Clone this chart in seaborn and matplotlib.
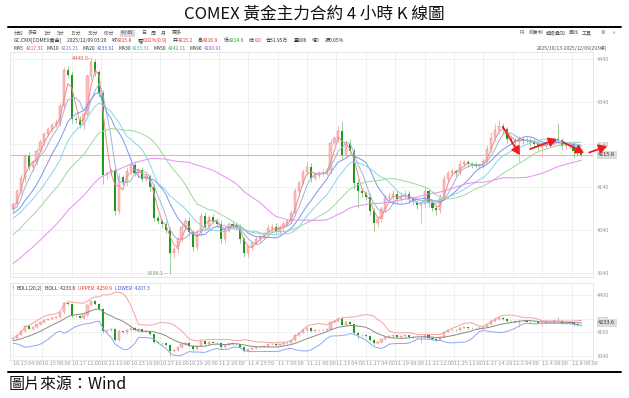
import numpy as np
import pandas as pd
import matplotlib
matplotlib.use("Agg")
import matplotlib.pyplot as plt
import matplotlib.transforms as mtrans
import seaborn as sns

# ---------------- data (1 bar here = 2 four-hour bars) ----------------
warmup_close = [3818, 3832, 3826, 3842, 3835, 3850, 3846, 3858, 3853, 3868,
                3876, 3890, 3882, 3898, 3893, 3909, 3903, 3918, 3912, 3927,
                3932, 3941, 3948, 3957, 3960, 3966, 3969, 3977, 3984, 3991,
                4018, 4036, 4044, 4051, 4050,
                4048, 4062, 4076, 4068, 4076,
                4070, 4086, 4079, 4076, 4090]

close = [4100, 4130, 4162, 4212, 4186, 4198, 4225, 4245, 4265, 4275,
         4285, 4291, 4330, 4415, 4402, 4300, 4298, 4285, 4310, 4400,
         4432, 4409, 4360, 4168, 4172, 4180, 4085, 4163, 4152, 4178,
         4193, 4172, 4180, 4160, 4165, 4140, 4068, 4060, 4054, 4040,
         3985, 3995, 4018, 4048, 4060, 4035, 4000, 4035, 4072, 4048,
         4070, 4062, 4055, 4018, 4042, 4054, 4050, 4045, 4018, 3985,
         4000, 4010, 4018, 4024, 4030, 4045, 4048, 4036, 4046, 4055,
         4060, 4080, 4130, 4150, 4175, 4188, 4162, 4170, 4172, 4174,
         4179, 4244, 4254, 4272, 4215, 4242, 4225, 4150, 4132, 4126,
         4118, 4085, 4056, 4065, 4090, 4115, 4116, 4125, 4112, 4120,
         4125, 4112, 4105, 4098, 4100, 4130, 4103, 4092, 4086, 4115,
         4160, 4172, 4177, 4174, 4195, 4198, 4194, 4191, 4190, 4190,
         4202, 4230, 4255, 4273, 4283, 4275, 4252, 4250, 4245, 4252,
         4250, 4249, 4245, 4242, 4235, 4237, 4241, 4243, 4252, 4250,
         4236, 4238, 4242, 4224, 4220, 4215.8]

upper_wick = [6, 5, 8, 6, 10, 5, 6, 7, 5, 6,
              5, 8, 6, 6, 8, 10, 6, 8, 6, 5,
              7.5, 8, 6, 8, 6, 5, 8, 10, 6, 8,
              6, 8, 5, 6, 8, 5, 8, 6, 5, 8,
              6, 8, 5, 6, 8, 10, 6, 5, 8, 10,
              6, 8, 5, 8, 6, 5, 8, 6, 8, 6,
              6, 5, 8, 6, 5, 8, 6, 8, 6, 5,
              5, 6, 8, 6, 8, 10, 8, 6, 5, 8,
              6, 8, 6, 10, 23, 8, 10, 6, 8, 6,
              6, 8, 6, 8, 6, 8, 10, 8, 6, 8,
              8, 6, 8, 6, 8, 12, 6, 8, 6, 8,
              8, 6, 8, 6, 8, 6, 5, 6, 8, 6,
              6, 8, 15, 15, 13, 8, 6, 8, 6, 8,
              6, 8, 6, 8, 6, 8, 6, 8, 6, 38,
              6, 8, 6, 5, 6, 4]

lower_wick = [8, 6, 5, 10, 6, 8, 5, 6, 8, 5,
              6, 5, 8, 10, 6, 10, 8, 6, 10, 8,
              6, 8, 10, 20, 8, 6, 10, 8, 6, 10,
              8, 6, 10, 8, 6, 10, 8, 6, 10, 8,
              46.9, 10, 8, 6, 8, 10, 10, 6, 8, 8,
              8, 6, 8, 10, 8, 6, 8, 6, 8, 8,
              8, 6, 5, 8, 6, 5, 8, 6, 5, 8,
              6, 5, 8, 6, 5, 6, 10, 6, 8, 5,
              5, 8, 6, 8, 10, 6, 8, 15, 40, 8,
              8, 10, 18, 8, 6, 8, 6, 10, 8, 6,
              6, 8, 6, 8, 41, 6, 10, 8, 10, 6,
              6, 8, 5, 8, 6, 5, 8, 6, 5, 8,
              5, 6, 8, 6, 8, 10, 8, 10, 8, 45,
              8, 6, 8, 6, 8, 25, 6, 8, 6, 8,
              8, 6, 8, 15, 8, 6]

x_labels = ["10.13 04:00", "10.15 08:00", "10.17 12:00", "10.21 12:00", "10.23 16:00",
            "10.27 16:00", "10.29 20:00", "11.2 20:00", "11.4 23:59", "11.7 00:00",
            "11.11 00:00", "11.13 04:00", "11.17 04:00", "11.19 08:00", "11.21 12:00",
            "11.25 12:00", "11.27 14:29", "12.2 04:00", "12.4 08:00", "12.8 08:00"]
price_ticks = [3940, 4040, 4140, 4240, 4340, 4440]
boll_ticks = [3940, 4160, 4270, 4490]
ma_periods = [5, 10, 20, 30, 50, 90]
ma_values = ["4217.31", "4226.21", "4233.61", "4233.31", "4242.11", "4200.91"]
boll_values = ["4233.6", "4259.9", "4207.3"]
quote_fields = [("收", "4215.8"), ("幅", "0.02%(0.9)"), ("开", "4215.2"), ("高", "4216.9"),
                ("低", "4214.6"), ("结", "0.0")]
quote_plain = ["仓31.95万", "量806", "增0", "振0.05%"]
trend_arrows = [((125.0, 4280.4), (129.3, 4215.0)),
                ((131.9, 4229.0), (138.8, 4252.4)),
                ((140.3, 4245.4), (145.7, 4219.7)),
                ((147.0, 4221.0), (151.6, 4236.0))]

# ---------------- derived table ----------------
n = len(close)
w = len(warmup_close)
full = pd.Series(warmup_close + close, dtype=float)
df = pd.DataFrame({"idx": np.arange(n), "close": np.array(close, dtype=float)})
df["open"] = full.shift(1).iloc[w:].values
df["high"] = np.maximum(df["open"], df["close"]) + np.array(upper_wick)
df["low"] = np.minimum(df["open"], df["close"]) - np.array(lower_wick)
for p in ma_periods:
    df[f"MA{p}"] = full.rolling(int(np.ceil(p / 2))).mean().iloc[w:].values
mid = full.rolling(10).mean()
sd = full.rolling(10).std(ddof=0)
df["mid"] = mid.iloc[w:].values
df["upper"] = (mid + 2 * sd).iloc[w:].values
df["lower"] = (mid - 2 * sd).iloc[w:].values

# ---------------- style ----------------
sns.set_theme(style="white")
SC = ["Noto Sans CJK SC", "DejaVu Sans"]
TC = ["Noto Sans CJK TC", "DejaVu Sans"]
plt.rcParams["font.family"] = SC
plt.rcParams["axes.unicode_minus"] = False

W, H = 629, 398
fig = plt.figure(figsize=(W / 100, H / 100), dpi=100)
fig.patch.set_facecolor("white")

ma_colors = ["#ef8a8a", "#9fb4d4", "#7d95ee", "#86d7ea", "#9ed89e", "#e58ff0"]
ma_val_colors = ["#e05050", "#6b8cb8", "#3a5de0", "#36b8d6", "#3aa83a", "#c23ee0"]
UP_FILL, UP_EDGE, UP_WICK = "#f9c0c0", "#f08080", "#f3a0a0"
DN_FILL, DN_WICK = "#1e9a1e", "#7cc47c"
GRID = "#eeeeee"

xmin, xmax = -0.77, 147.96
grid_x = [7.5 * k for k in range(len(x_labels))]


def draw_candles(ax):
    up = df["close"] >= df["open"]
    dn = ~up
    ax.vlines(df["idx"][up], df["low"][up], df["high"][up], color=UP_WICK, lw=0.55, zorder=2)
    ax.vlines(df["idx"][dn], df["low"][dn], df["high"][dn], color=DN_WICK, lw=0.55, zorder=2)
    ax.bar(df["idx"][up], (df["close"] - df["open"])[up], bottom=df["open"][up], width=0.55,
           color=UP_FILL, edgecolor=UP_EDGE, linewidth=0.3, zorder=3)
    ax.bar(df["idx"][dn], (df["close"] - df["open"])[dn], bottom=df["open"][dn], width=0.55,
           color=DN_FILL, linewidth=0, zorder=3)


def style_axis(ax, ticks):
    ax.set_xlim(xmin, xmax)
    ax.set_yticks(ticks)
    ax.set_xticks(grid_x)
    ax.yaxis.tick_right()
    ax.tick_params(axis="y", labelsize=4, labelcolor="#999999", length=0, pad=3)
    ax.grid(True, color=GRID, lw=0.6)
    for s in ax.spines.values():
        s.set_color("#e2e2e2")
        s.set_linewidth(0.6)
    ax.set_xlabel("")
    ax.set_ylabel("")


# ---------------- main panel ----------------
ax = fig.add_axes([10 / W, 1 - 277 / H, 583 / W, 225 / H])
ax.set_ylim(3930, 4456)
style_axis(ax, price_ticks)
ax.tick_params(axis="x", labelbottom=False, length=0)
ax.axhline(df["close"].iloc[-1], color="#f8b776", lw=0.8, zorder=1)
draw_candles(ax)
for p, c in zip(ma_periods, ma_colors):
    sns.lineplot(data=df, x="idx", y=f"MA{p}", ax=ax, color=c, lw=0.7, zorder=4, legend=False)
ax.set_xlabel("")
ax.set_ylabel("")

ih = int(df["high"].idxmax())
il = int(df["low"].idxmin())
ax.text(ih - 0.3, df["high"][ih], f"{df['high'][ih]:.1f}\u2014", ha="right", va="center",
        fontsize=4, color="#e06464", zorder=6)
ax.text(il - 0.3, df["low"][il], f"{df['low'][il]:.1f}\u2014", ha="right", va="center",
        fontsize=4, color="#7fa07f", zorder=6)

for start, end in trend_arrows:
    ax.annotate("", xy=end, xytext=start, annotation_clip=False, zorder=9,
                arrowprops=dict(arrowstyle="-|>,head_length=0.8,head_width=0.45", color="#ee1c1c",
                                lw=1.3, mutation_scale=6, shrinkA=0, shrinkB=0))

blend = mtrans.blended_transform_factory(ax.transAxes, ax.transData)
ax.text(1.009, df["close"].iloc[-1], f"{df['close'].iloc[-1]:.1f}", transform=blend,
        fontsize=4, color="#333333", va="center", ha="left", zorder=8,
        bbox=dict(boxstyle="square,pad=0.3", fc="#dcdcdc", ec="none"))

# ---------------- BOLL panel ----------------
ax2 = fig.add_axes([10 / W, 1 - 360 / H, 583 / W, 77 / H])
ax2.set_ylim(3906, 4593)
style_axis(ax2, boll_ticks)
draw_candles(ax2)
sns.lineplot(data=df, x="idx", y="upper", ax=ax2, color="#f4a2a2", lw=0.7, zorder=4, legend=False)
sns.lineplot(data=df, x="idx", y="mid", ax=ax2, color="#8a8a8a", lw=0.7, zorder=4, legend=False)
sns.lineplot(data=df, x="idx", y="lower", ax=ax2, color="#8ea6f8", lw=0.7, zorder=4, legend=False)
ax2.set_xlabel("")
ax2.set_ylabel("")
ax2.set_xticks(grid_x)
ax2.set_xticklabels(x_labels, ha="left")
ax2.tick_params(axis="x", labelsize=4, labelcolor="#999999", length=0, pad=1)
blend2 = mtrans.blended_transform_factory(ax2.transAxes, ax2.transData)
ax2.text(1.009, df["mid"].iloc[-1], boll_values[0], transform=blend2,
         fontsize=4, color="#333333", va="center", ha="left", zorder=8,
         bbox=dict(boxstyle="square,pad=0.3", fc="#dcdcdc", ec="none"))

# ---------------- texts ----------------
renderer = fig.canvas.get_renderer()


def seq(x, y, parts, size=3.6):
    for s, c, gap in parts:
        t = fig.text(x / W, 1 - y / H, s, fontsize=size, color=c, ha="left", va="center", family=SC)
        x += t.get_window_extent(renderer).width + gap
    return x


fig.text(0.5, 1 - 15 / H, "COMEX 黃金主力合約 4 小時 K 線圖", ha="center", va="center",
         fontsize=12, color="#111111", family=TC)
fig.add_artist(plt.Line2D([8 / W, 621 / W], [1 - 27 / H, 1 - 27 / H], color="black", lw=1.4))

tool_items = ["分时", "多日", "1分", "5分", "15分", "30分", "60分", "4小时", "日", "周", "月", "更多"]
tool_x = [14, 28, 44, 57, 71, 88, 104, 121, 141, 151, 161, 172]
for s, xx in zip(tool_items, tool_x):
    kw = {}
    if s == "4小时":
        kw = dict(bbox=dict(boxstyle="square,pad=0.2", fc="#d9d9d9", ec="none"))
    fig.text(xx / W, 1 - 33 / H, s, fontsize=3.6, color="#555555", ha="left", va="center", **kw)
right_items = ["F9", "前复权", "超级叠加", "画线", "工具", "\u2699", "\u00bb"]
right_x = [519, 529, 546, 569, 582, 601, 613]
for s, xx in zip(right_items, right_x):
    fig.text(xx / W, 1 - 33 / H, s, fontsize=3.6, color="#555555", ha="left", va="center")

RED, GRN, TXT = "#e03030", "#1f9e1f", "#333333"
parts = [("GC.CMX[COMEX黄金]", TXT, 5), ("2025/12/09 03:20", TXT, 5)]
for lab, val in quote_fields:
    parts.append((lab, TXT, 0.3))
    parts.append((val, GRN if lab == "低" else RED, 5))
for s in quote_plain:
    parts.append((s, TXT, 5))
seq(14, 40.5, parts)

parts = []
for p, v, c in zip(ma_periods, ma_values, ma_val_colors):
    parts.append((f"MA{p}", TXT, 1.5))
    parts.append((v, c, 3.5))
seq(14, 48, parts)
fig.text(607 / W, 1 - 48 / H, "2025/10/13-2025/12/09(293根)", fontsize=3.6, color="#555555",
         ha="right", va="center")

seq(12, 288, [("?", "#888888", 2), ("BOLL(20,2)", TXT, 3), (f"BOLL: {boll_values[0]}", TXT, 3),
              (f"UPPER: {boll_values[1]}", RED, 3), (f"LOWER: {boll_values[2]}", "#3a5de0", 3)])

fig.add_artist(plt.Line2D([8 / W, 621 / W], [1 - 372 / H, 1 - 372 / H], color="black", lw=1.4))
fig.text(9 / W, 1 - 384 / H, "圖片來源：Wind", ha="left", va="center", fontsize=11.5,
         color="#111111", family=TC)

fig.savefig("out.png", dpi=100, facecolor="white")
